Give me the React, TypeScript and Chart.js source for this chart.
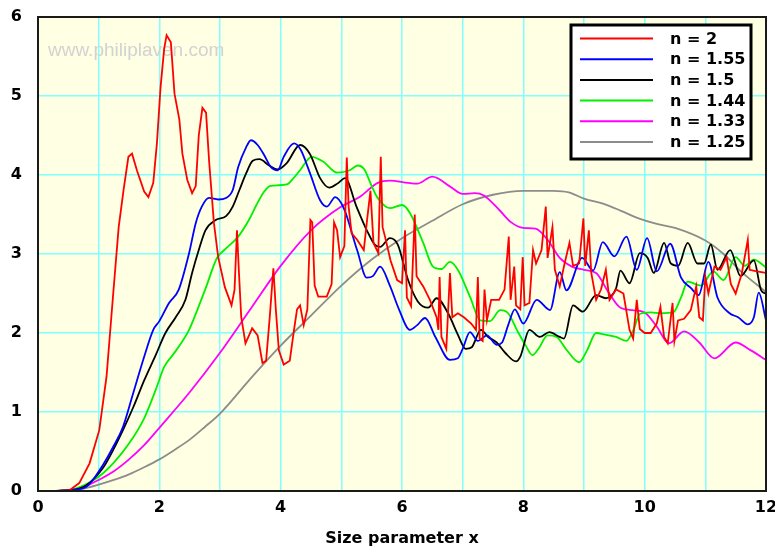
import React, { useEffect, useRef } from 'react';
import { Chart, registerables } from 'chart.js';

Chart.register(...registerables);

const X_MIN = 0;
const X_MAX = 12;
const Y_MIN = 0;
const Y_MAX = 6;
const X_TITLE = 'Size parameter x';
const WATERMARK = 'www.philiplaven.com';
const SERIES_LABELS = ['n = 2', 'n = 1.55', 'n = 1.5', 'n = 1.44', 'n = 1.33', 'n = 1.25'];
const SERIES_COLORS = ['#ff0000', '#0000ff', '#000000', '#00f000', '#ff00ff', '#8c8c8c'];

// [x, Q] pairs
const n200: number[][] = [
  [0.3, 0], [0.52, 0.01], [0.68, 0.1], [0.85, 0.35], [1.01, 0.77], [1.13, 1.45], [1.24, 2.5], [1.33, 3.34],
  [1.41, 3.81], [1.49, 4.23], [1.55, 4.27], [1.63, 4.06], [1.75, 3.79], [1.82, 3.72], [1.9, 3.9], [1.96, 4.4],
  [2.02, 5.11], [2.08, 5.6], [2.12, 5.77], [2.19, 5.68], [2.25, 5.03], [2.33, 4.7], [2.38, 4.27], [2.46, 3.94],
  [2.54, 3.77], [2.6, 3.86], [2.65, 4.5], [2.71, 4.85], [2.77, 4.79], [2.82, 4.18], [2.9, 3.39], [2.97, 2.96],
  [3.08, 2.58], [3.19, 2.35], [3.24, 2.55], [3.28, 3.3], [3.31, 2.8], [3.35, 2.2], [3.42, 1.87], [3.53, 2.06],
  [3.62, 1.97], [3.7, 1.62], [3.76, 1.65], [3.82, 2.2], [3.88, 2.82], [3.92, 2.3], [3.97, 1.78], [4.05, 1.6],
  [4.15, 1.65], [4.22, 2.04], [4.27, 2.3], [4.32, 2.35], [4.38, 2.1], [4.44, 2.3], [4.49, 3.43], [4.52, 3.4],
  [4.56, 2.6], [4.62, 2.46], [4.76, 2.46], [4.84, 2.62], [4.88, 3.4], [4.93, 3.3], [4.98, 2.96], [5.05, 3.1],
  [5.09, 4.22], [5.12, 3.6], [5.17, 3.26], [5.26, 3.18], [5.37, 3.05], [5.43, 3.47], [5.48, 3.8], [5.53, 3.14],
  [5.61, 3.01], [5.65, 4.23], [5.68, 3.34], [5.72, 3.22], [5.81, 2.92], [5.92, 2.67], [6.0, 2.63], [6.05, 3.3],
  [6.08, 2.45], [6.15, 2.34], [6.21, 3.5], [6.24, 2.72], [6.35, 2.59], [6.46, 2.42], [6.57, 2.2], [6.6, 2.04],
  [6.62, 2.71], [6.65, 1.95], [6.73, 1.8], [6.79, 2.76], [6.83, 2.2], [6.92, 2.25], [7.02, 2.2], [7.14, 2.12],
  [7.22, 2.04], [7.25, 2.71], [7.28, 1.93], [7.33, 1.9], [7.36, 2.55], [7.4, 2.16], [7.47, 2.42], [7.6, 2.42],
  [7.69, 2.55], [7.76, 3.22], [7.79, 2.42], [7.85, 2.84], [7.88, 2.35], [7.95, 2.3], [7.99, 2.96], [8.02, 2.35],
  [8.1, 2.38], [8.16, 3.05], [8.21, 2.88], [8.3, 3.05], [8.37, 3.6], [8.4, 2.95], [8.48, 3.34], [8.52, 2.8],
  [8.6, 2.59], [8.68, 2.88], [8.76, 3.14], [8.82, 2.85], [8.92, 2.88], [8.99, 3.45], [9.02, 2.85], [9.08, 3.3],
  [9.12, 2.76], [9.2, 2.42], [9.28, 2.55], [9.36, 2.8], [9.42, 2.42], [9.53, 2.55], [9.65, 2.5], [9.75, 2.04],
  [9.81, 1.93], [9.87, 2.42], [9.92, 2.05], [10.0, 2.0], [10.1, 2.0], [10.2, 2.12], [10.26, 2.33], [10.32, 1.95],
  [10.38, 1.87], [10.46, 2.38], [10.49, 1.9], [10.55, 2.16], [10.65, 2.18], [10.76, 2.29], [10.85, 2.59], [10.9, 2.2],
  [10.96, 2.16], [11.0, 2.71], [11.05, 2.5], [11.15, 2.84], [11.25, 2.8], [11.35, 2.96], [11.42, 2.62], [11.5, 2.5],
  [11.6, 2.75], [11.7, 3.18], [11.73, 2.8], [11.85, 2.78], [12.0, 2.76],
];

const n155: number[][] = [
  [0.25, 0], [0.52, 0.01], [0.79, 0.05], [1.07, 0.33], [1.24, 0.56], [1.4, 0.81], [1.57, 1.24], [1.75, 1.7],
  [1.9, 2.04], [2.0, 2.15], [2.16, 2.38], [2.32, 2.55], [2.49, 3.01], [2.6, 3.39], [2.7, 3.6], [2.82, 3.71],
  [2.97, 3.69], [3.1, 3.71], [3.21, 3.81], [3.3, 4.1], [3.43, 4.35], [3.51, 4.44], [3.62, 4.38], [3.73, 4.25],
  [3.84, 4.1], [3.95, 4.06], [4.05, 4.23], [4.22, 4.4], [4.33, 4.32], [4.48, 4.03], [4.65, 3.68], [4.76, 3.6],
  [4.9, 3.72], [5.04, 3.58], [5.26, 3.05], [5.42, 2.7], [5.52, 2.72], [5.64, 2.84], [5.8, 2.6], [5.95, 2.3],
  [6.13, 2.04], [6.25, 2.1], [6.38, 2.19], [6.55, 1.95], [6.79, 1.66], [6.92, 1.68], [7.0, 1.8], [7.12, 2.01],
  [7.25, 1.9], [7.4, 1.97], [7.56, 1.85], [7.65, 1.88], [7.75, 2.1], [7.86, 2.3], [8.0, 2.12], [8.22, 2.42],
  [8.44, 2.29], [8.6, 2.77], [8.71, 2.54], [8.97, 2.95], [9.15, 2.79], [9.31, 3.15], [9.5, 2.97], [9.7, 3.22],
  [9.87, 2.8], [10.04, 3.2], [10.2, 2.78], [10.42, 3.13], [10.6, 2.7], [10.76, 2.57], [10.89, 2.48], [11.05, 2.9],
  [11.2, 2.45], [11.4, 2.25], [11.54, 2.2], [11.7, 2.11], [11.8, 2.2], [11.88, 2.51], [12.0, 2.16],
];

const n150: number[][] = [
  [0.25, 0], [0.52, 0.01], [0.79, 0.07], [1.07, 0.29], [1.24, 0.52], [1.4, 0.77], [1.57, 1.06], [1.75, 1.4],
  [1.94, 1.72], [2.1, 2.0], [2.27, 2.2], [2.43, 2.42], [2.54, 2.76], [2.65, 3.05], [2.76, 3.3], [2.93, 3.43],
  [3.1, 3.48], [3.21, 3.6], [3.32, 3.81], [3.43, 4.02], [3.54, 4.18], [3.65, 4.2], [3.81, 4.12], [3.95, 4.07],
  [4.1, 4.15], [4.32, 4.38], [4.48, 4.27], [4.65, 3.96], [4.8, 3.84], [4.95, 3.9], [5.06, 3.96], [5.25, 3.6],
  [5.42, 3.3], [5.55, 3.12], [5.64, 3.09], [5.8, 3.2], [5.93, 3.12], [6.1, 2.67], [6.26, 2.4], [6.43, 2.32],
  [6.57, 2.44], [6.76, 2.25], [6.92, 1.98], [7.05, 1.8], [7.15, 1.82], [7.3, 2.04], [7.42, 1.95], [7.56, 1.88],
  [7.7, 1.75], [7.88, 1.64], [7.95, 1.7], [8.1, 2.04], [8.27, 1.95], [8.43, 2.01], [8.6, 1.95], [8.67, 1.93],
  [8.82, 2.35], [8.98, 2.27], [9.2, 2.48], [9.36, 2.44], [9.53, 2.57], [9.6, 2.79], [9.75, 2.63], [9.92, 3.01],
  [10.05, 2.95], [10.15, 2.76], [10.32, 3.14], [10.43, 2.88], [10.55, 2.85], [10.71, 3.14], [10.87, 2.88], [10.98, 2.88],
  [11.09, 3.12], [11.2, 2.8], [11.41, 3.05], [11.58, 2.72], [11.8, 2.92], [11.92, 2.54], [12.0, 2.5],
];

const n144: number[][] = [
  [0.25, 0], [0.5, 0.01], [0.75, 0.07], [1, 0.18], [1.25, 0.36], [1.5, 0.6], [1.75, 0.92], [1.94, 1.28],
  [2.08, 1.57], [2.22, 1.72], [2.35, 1.86], [2.49, 2.04], [2.63, 2.3], [2.77, 2.58], [2.95, 2.95], [3.1, 3.07],
  [3.3, 3.22], [3.49, 3.45], [3.6, 3.62], [3.71, 3.77], [3.82, 3.86], [3.96, 3.87], [4.1, 3.88], [4.2, 3.95],
  [4.32, 4.06], [4.51, 4.23], [4.7, 4.17], [4.93, 4.03], [5.14, 4.06], [5.27, 4.12], [5.38, 4.07], [5.5, 3.86],
  [5.59, 3.72], [5.8, 3.58], [6.0, 3.62], [6.13, 3.52], [6.35, 3.14], [6.51, 2.84], [6.65, 2.81], [6.79, 2.9],
  [6.92, 2.8], [7.12, 2.46], [7.29, 2.16], [7.45, 2.15], [7.62, 2.29], [7.75, 2.25], [7.9, 2.03], [8.04, 1.84],
  [8.15, 1.72], [8.25, 1.8], [8.4, 1.97], [8.55, 1.95], [8.7, 1.8], [8.92, 1.63], [9.05, 1.78], [9.2, 2.0],
  [9.35, 1.98], [9.53, 1.95], [9.7, 1.9], [9.82, 2.05], [9.92, 2.24], [10.1, 2.26], [10.27, 2.25], [10.47, 2.26],
  [10.6, 2.45], [10.71, 2.65], [10.93, 2.6], [11.13, 2.78], [11.3, 2.67], [11.5, 2.96], [11.65, 2.85], [11.8, 2.93],
  [12.0, 2.83],
];

const n133: number[][] = [
  [0.25, 0], [0.5, 0.01], [0.75, 0.05], [1, 0.14], [1.25, 0.25], [1.5, 0.4], [1.75, 0.58], [2, 0.8],
  [2.5, 1.25], [3, 1.75], [3.5, 2.3], [4, 2.85], [4.5, 3.3], [5, 3.6], [5.3, 3.72], [5.6, 3.9],
  [5.8, 3.93], [6.1, 3.9], [6.25, 3.89], [6.5, 3.98], [6.8, 3.85], [7.0, 3.76], [7.2, 3.77], [7.35, 3.74],
  [7.6, 3.56], [7.8, 3.4], [8.0, 3.33], [8.2, 3.32], [8.4, 3.18], [8.6, 2.95], [8.8, 2.84], [9.0, 2.8],
  [9.2, 2.76], [9.4, 2.52], [9.6, 2.32], [9.8, 2.29], [10.0, 2.26], [10.2, 2.08], [10.4, 1.87], [10.65, 2.02],
  [10.9, 1.88], [11.15, 1.68], [11.5, 1.88], [11.75, 1.78], [12.0, 1.66],
];

const n125: number[][] = [
  [0.25, 0], [0.5, 0.01], [0.75, 0.03], [1, 0.08], [1.25, 0.14], [1.5, 0.21], [1.75, 0.3], [2, 0.4],
  [2.25, 0.52], [2.5, 0.65], [2.75, 0.81], [3, 0.98], [3.5, 1.42], [4, 1.84], [4.5, 2.22], [5, 2.6],
  [5.5, 2.93], [6, 3.2], [6.5, 3.42], [7, 3.63], [7.5, 3.75], [8, 3.8], [8.5, 3.8], [8.75, 3.78],
  [9, 3.7], [9.3, 3.64], [9.6, 3.55], [9.9, 3.45], [10.2, 3.38], [10.5, 3.33], [11, 3.17], [11.3, 3.0],
  [11.6, 2.77], [12, 2.52],
];

const SERIES = [n200, n155, n150, n144, n133, n125];

const PLOT_BG = '#ffffe3';
const GRID_COLOR = '#80ffff';
const TICK_FONT = { family: '"DejaVu Sans"', size: 16, weight: 'bold' as const };

const bgPlugin = {
  id: 'bgPlugin',
  beforeDraw(chart: any) {
    const { ctx, chartArea } = chart;
    const { left, top, right, bottom } = chartArea;
    ctx.save();
    ctx.fillStyle = '#ffffff';
    ctx.fillRect(0, 0, chart.width, chart.height);
    ctx.fillStyle = PLOT_BG;
    ctx.fillRect(left, top, right - left, bottom - top);
    ctx.restore();
  },
  beforeDatasetsDraw(chart: any) {
    const { ctx, chartArea } = chart;
    ctx.save();
    ctx.font = '19px "Liberation Sans"';
    ctx.fillStyle = '#d2d2d2';
    ctx.textBaseline = 'alphabetic';
    ctx.textAlign = 'left';
    ctx.fillText(WATERMARK, chartArea.left + 10, chartArea.top + 39);
    ctx.restore();
  },
  afterDraw(chart: any) {
    const { ctx, chartArea } = chart;
    const { left, top, right, bottom } = chartArea;
    ctx.save();
    ctx.strokeStyle = '#1a1a1a';
    ctx.lineWidth = 2;
    ctx.strokeRect(left, top, right - left, bottom - top);

    // legend box
    const bx = 571;
    const by = 25;
    const bw = 180;
    const bh = 134;
    ctx.fillStyle = '#ffffff';
    ctx.fillRect(bx, by, bw, bh);
    ctx.strokeStyle = '#000000';
    ctx.lineWidth = 3;
    ctx.strokeRect(bx, by, bw, bh);
    const ds = chart.data.datasets;
    ctx.font = 'bold 16px "DejaVu Sans"';
    ctx.textBaseline = 'middle';
    ctx.textAlign = 'left';
    for (let i = 0; i < ds.length; i++) {
      const yy = 38.5 + i * 20.7;
      ctx.strokeStyle = ds[i].borderColor;
      ctx.lineWidth = 2;
      ctx.beginPath();
      ctx.moveTo(580, yy);
      ctx.lineTo(653, yy);
      ctx.stroke();
      ctx.fillStyle = '#000000';
      ctx.fillText(ds[i].label, 670, yy + 1);
    }
    ctx.restore();
  },
};

export default function App() {
  const canvasRef = useRef<HTMLCanvasElement | null>(null);

  useEffect(() => {
    document.body.style.margin = '0';
    const canvas = canvasRef.current;
    if (!canvas) return;
    const chart = new Chart(canvas, {
      type: 'line',
      data: {
        datasets: SERIES.map((s, i) => ({
          label: SERIES_LABELS[i],
          data: s.map(([x, y]) => ({ x, y })),
          borderColor: SERIES_COLORS[i],
          backgroundColor: SERIES_COLORS[i],
          borderWidth: 1.8,
          pointRadius: 0,
          fill: false,
          tension: i === 0 ? 0 : 0.35,
          cubicInterpolationMode: i === 0 ? 'default' : 'monotone',
        })) as any,
      },
      options: {
        animation: false,
        responsive: false,
        maintainAspectRatio: false,
        devicePixelRatio: 1,
        layout: { padding: { top: 17, right: 9, bottom: 0, left: 0 } },
        plugins: {
          legend: { display: false },
          tooltip: { enabled: false },
        },
        scales: {
          x: {
            type: 'linear',
            min: X_MIN,
            max: X_MAX,
            grid: { color: GRID_COLOR, lineWidth: 1.5, drawTicks: false },
            border: { display: false },
            ticks: {
              stepSize: 1,
              autoSkip: false,
              maxRotation: 0,
              padding: 7,
              color: '#000000',
              font: TICK_FONT,
              callback: (v: any) => (Number(v) % 2 === 0 ? String(v) : ''),
            },
            title: {
              display: true,
              text: X_TITLE,
              color: '#000000',
              font: { family: '"DejaVu Sans"', size: 16, weight: 'bold' },
              padding: { top: 2, bottom: 2 },
            },
            afterFit: (scale: any) => {
              scale.height = 59;
              scale.paddingLeft = 0;
              scale.paddingRight = 0;
            },
          },
          y: {
            type: 'linear',
            min: Y_MIN,
            max: Y_MAX,
            grid: { color: GRID_COLOR, lineWidth: 1.5, drawTicks: false },
            border: { display: false },
            ticks: {
              stepSize: 1,
              padding: 16,
              color: '#000000',
              font: TICK_FONT,
            },
            afterFit: (scale: any) => {
              scale.width = 38;
              scale.paddingTop = 0;
              scale.paddingBottom = 0;
            },
          },
        },
      } as any,
      plugins: [bgPlugin],
    });
    return () => chart.destroy();
  }, []);

  return (
    <div style={{ width: 775, height: 550 }}>
      <canvas ref={canvasRef} width={775} height={550} style={{ display: 'block' }} />
    </div>
  );
}
